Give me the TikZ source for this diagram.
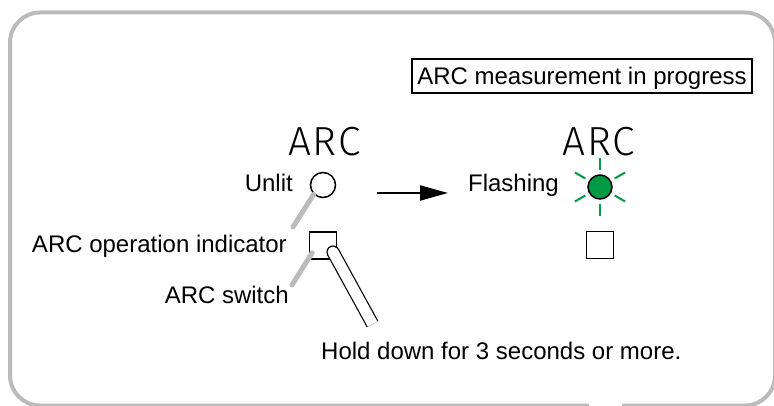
\documentclass[tikz,border=0pt]{standalone}
\usepackage{fontspec}
\setmainfont{Liberation Sans}
\newfontfamily\arcfont[LetterSpace=4]{Fira Sans Light}
\usetikzlibrary{arrows.meta}
\definecolor{bordergray}{HTML}{BBBBBB}
\definecolor{ledgreen}{HTML}{009A44}
\begin{document}
\begin{tikzpicture}[x=1pt,y=-1pt,
  lbl/.style={font=\fontsize{24}{28}\selectfont, inner sep=0pt},
  arclbl/.style={font=\arcfont\fontsize{40.6}{44}\selectfont, inner sep=0pt, anchor=base},
  leader/.style={draw=bordergray, line width=5pt, line cap=round},
  sq/.style={draw, line width=1.5pt, minimum size=27pt, inner sep=0pt},
  ray/.style={draw=ledgreen, line width=2pt}]
\path[use as bounding box, clip] (0,0) rectangle (774,406);
% frame
\draw[bordergray, line width=4pt, rounded corners=30pt] (10,12.5) rectangle (775,405.5);
\fill[white] (589,398) rectangle (622,407);
% status box
\node[lbl, draw, line width=1.2pt, minimum width=340pt, minimum height=34pt,
      text height=23pt, text depth=5pt] (status) at (582,76) {ARC measurement in progress};
% left group
\node[arclbl] (arcL) at (324.5,156) {ARC};
\node[circle, draw, line width=1.5pt, minimum size=25pt, inner sep=0pt] (unlit) at (323,185) {};
\node[lbl, anchor=base east] (unlitlbl) at (293,192) {Unlit};
\node[sq] (swL) at (323,245.5) {};
\coordinate (l1end) at (293,227);
\draw[leader] (unlit.225) -- (l1end);
\coordinate (l2a) at (312,253);
\coordinate (l2b) at (292,285);
\draw[leader] (l2a) -- (l2b);
\node[lbl, anchor=base east] (indlbl) at (287,253) {ARC operation indicator};
\node[lbl, anchor=base east] (swlbl) at (289,303) {ARC switch};
% finger stick
\coordinate (stickT) at (333,252);
\coordinate (stickB) at (372.5,324);
\fill (stickT) circle (6.6pt);
\draw[line width=13.2pt] (stickT) -- (stickB);
\fill[white] (stickT) circle (5.4pt);
\draw[white, line width=10.8pt] (stickT) -- (stickB);
\node[lbl, anchor=base west] (hold) at (321,359) {Hold down for 3 seconds or more.};
% arrow
\coordinate (arrS) at (377,193);
\coordinate (arrE) at (448,193);
\draw[line width=2pt, -{Triangle[length=28pt,width=15pt]}] (arrS) -- (arrE);
% right group
\node[arclbl] (arcR) at (599,156) {ARC};
\node[circle, draw, fill=ledgreen, line width=1.5pt, minimum size=24pt, inner sep=0pt] (flash) at (600,187) {};
\foreach \a in {30,90,150,210,270,330}
  \draw[ray] ([shift={(\a:17pt)}]flash.center) -- ([shift={(\a:29pt)}]flash.center);
\node[lbl, anchor=base east] (flashlbl) at (559,192) {Flashing};
\node[sq] (swR) at (600,245) {};
\end{tikzpicture}
\end{document}
